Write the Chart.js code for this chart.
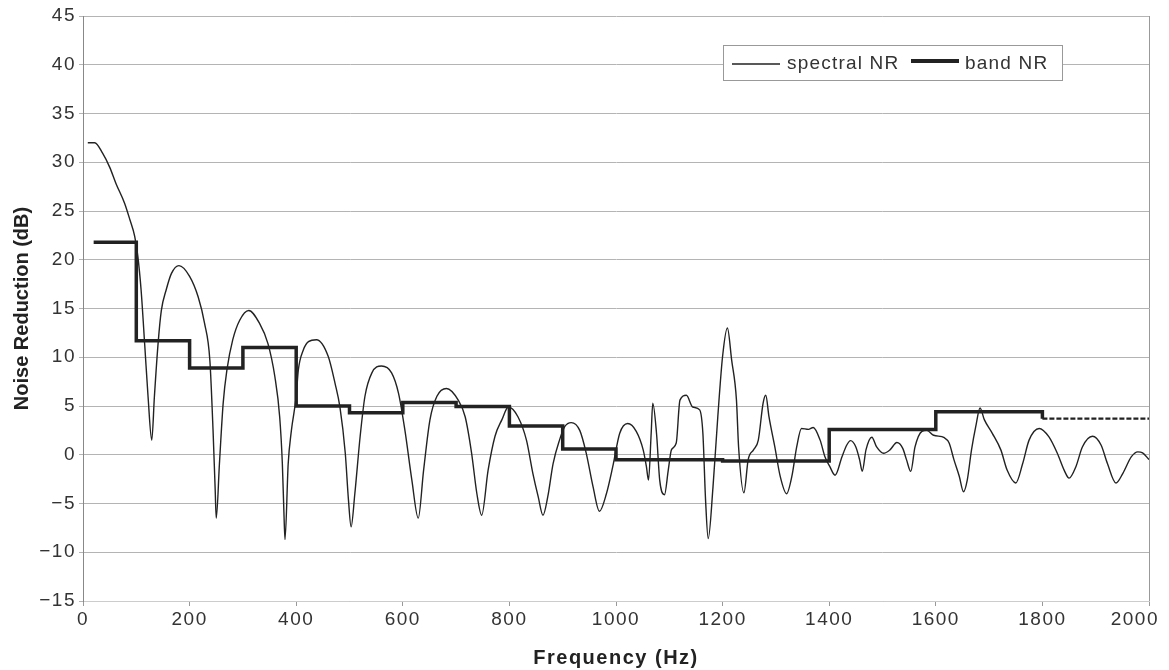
<!DOCTYPE html>
<html>
<head>
<meta charset="utf-8">
<script src="https://cdn.jsdelivr.net/npm/chart.js@4.4.1/dist/chart.umd.min.js"></script>
<style>
  html, body { margin: 0; background: #fff; }
  #wrap { width: 1169px; height: 670px; }
</style>
</head>
<body>
<div id="wrap"><canvas id="nrChart"></canvas></div>
<script>
// spectral NR (Hz, dB)
const specFreq = [9, 22, 37, 50, 62, 78, 88, 97, 103, 109, 116, 122, 129, 134, 141, 147, 156, 166, 180, 200,
  216, 228, 238, 244, 248, 250, 256, 263, 270, 281, 294, 311, 331, 347, 360, 369, 374, 377, 379, 385,
  391, 400, 404, 413, 423, 438, 460, 473, 482, 492, 498, 503, 510, 520, 529, 542, 560, 579, 592, 604,
  617, 629, 639, 651, 664, 682, 704, 717, 729, 739, 748, 760, 773, 786, 798, 816, 832, 844, 854, 863,
  872, 882, 894, 904, 916, 932, 944, 957, 969, 982, 994, 1007, 1022, 1038, 1051, 1057, 1061, 1066, 1069, 1076,
  1082, 1091, 1098, 1104, 1113, 1120, 1132, 1144, 1157, 1163, 1168, 1173, 1182, 1191, 1200, 1209, 1217, 1226, 1230, 1240,
  1248, 1258, 1267, 1276, 1281, 1287, 1298, 1308, 1320, 1330, 1339, 1348, 1361, 1370, 1383, 1392, 1401, 1411, 1424, 1433,
  1440, 1450, 1457, 1462, 1469, 1480, 1489, 1502, 1514, 1527, 1538, 1545, 1553, 1561, 1574, 1583, 1596, 1616, 1625, 1634,
  1644, 1652, 1659, 1667, 1675, 1683, 1691, 1706, 1722, 1734, 1750, 1763, 1775, 1794, 1812, 1828, 1841, 1850, 1863, 1875,
  1894, 1910, 1922, 1938, 1951, 1967, 1979, 1988, 2000];
const specNR = [32.0, 32.0, 30.9, 29.5, 27.8, 25.8, 24.1, 22.4, 20.3, 16.9, 11.1, 6.0, 1.5, 6.0, 11.5, 14.8, 16.9, 18.6, 19.4, 18.3,
  16.2, 13.5, 9.7, 2.5, -3.6, -6.5, -0.9, 5.3, 8.7, 11.8, 13.8, 14.8, 13.5, 11.4, 8.0, 3.9, -0.9, -6.0, -8.7, -0.9,
  2.5, 6.0, 8.7, 10.7, 11.6, 11.8, 10.1, 7.3, 4.9, 0.2, -4.6, -7.4, -4.0, 1.9, 6.0, 8.4, 9.1, 8.4, 6.3, 2.5,
  -2.6, -6.5, -1.6, 3.6, 6.0, 6.8, 5.6, 3.9, 0.2, -4.0, -6.2, -1.6, 1.9, 3.6, 4.9, 3.9, 1.5, -1.9, -4.3, -6.2,
  -4.3, -0.9, 1.5, 2.9, 3.3, 2.5, 0.2, -3.3, -5.8, -4.0, -1.2, 2.2, 3.2, 2.4, 0.5, -1.2, -2.6, 2.2, 5.3, 2.2,
  -2.6, -4.1, -1.6, 0.5, 1.2, 5.6, 6.1, 4.9, 4.6, 2.2, -4.6, -8.6, -3.3, 3.9, 10.1, 13.0, 9.7, 5.6, 0.8, -3.9,
  -0.5, 0.5, 1.5, 5.3, 6.1, 3.9, 0.8, -2.2, -4.0, -2.2, 0.8, 2.7, 2.6, 2.8, 1.5, -0.2, -1.2, -2.1, -0.2, 1.0,
  1.45, 0.8, -0.5, -1.7, 0.5, 1.8, 0.8, 0.15, 0.5, 1.25, 0.65, -0.5, -1.7, 0.8, 2.4, 2.5, 2.0, 1.75, 1.2, -0.5,
  -2.2, -3.8, -2.6, 0.5, 2.9, 4.8, 3.6, 2.2, 0.5, -1.6, -2.9, -0.9, 1.5, 2.7, 1.85, 0.15, -1.6, -2.4, -1.2, 0.8,
  1.9, 1.0, -0.9, -2.9, -1.9, -0.2, 0.3, 0.2, -0.5];

// band NR: one value per band, band edges in Hz
const bandEdges = [20, 100, 200, 300, 400, 500, 600, 700, 800, 900, 1000, 1200, 1400, 1600, 1800, 2000];
const bandNR = [21.8, 11.7, 8.9, 11.0, 5.0, 4.3, 5.35, 4.95, 2.95, 0.6, -0.5, -0.65, 2.6, 4.4, 3.7];

const xTicks = [0, 200, 400, 600, 800, 1000, 1200, 1400, 1600, 1800, 2000];
const yTicks = [-15, -10, -5, 0, 5, 10, 15, 20, 25, 30, 35, 40, 45];

const FONT = "'Liberation Sans', Arial, sans-serif";
const INK = "#222";
const LABEL = "#333";

const spectralPoints = specFreq.map((f, i) => ({ x: f, y: specNR[i] }));
const bandPoints = bandEdges.map((f, i) => ({ x: f, y: bandNR[Math.min(i, bandNR.length - 1)] }));

// the reference text is a little wide; letter spacing gets close to it
const wideText = {
  id: "wideText",
  beforeLayout(chart) { chart.ctx.letterSpacing = "1.5px"; },
  beforeDraw(chart) { chart.ctx.letterSpacing = "1.5px"; }
};

// legend box inside the plot, y title, last x label and the right frame edge
const frameAndLegend = {
  id: "frameAndLegend",
  afterDraw(chart) {
    const { ctx, chartArea, scales } = chart;
    ctx.save();
    ctx.strokeStyle = "#999";
    ctx.lineWidth = 1;
    ctx.beginPath();
    ctx.moveTo(Math.round(chartArea.right) + 0.5, chartArea.top);
    ctx.lineTo(Math.round(chartArea.right) + 0.5, chartArea.bottom);
    ctx.stroke();

    // last x tick label, kept inside the canvas as in the original
    ctx.fillStyle = LABEL;
    ctx.font = "19px " + FONT;
    ctx.letterSpacing = "1.5px";
    ctx.textAlign = "right";
    ctx.textBaseline = "top";
    const last = xTicks[xTicks.length - 1];
    ctx.fillText(String(last), scales.x.getPixelForValue(last) + 10, chartArea.bottom + 9);

    // y axis title
    ctx.letterSpacing = "0px";
    ctx.save();
    ctx.translate(22, (chartArea.top + chartArea.bottom) / 2);
    ctx.rotate(-Math.PI / 2);
    ctx.textAlign = "center";
    ctx.textBaseline = "middle";
    ctx.fillStyle = INK;
    ctx.font = "bold 20px " + FONT;
    ctx.fillText("Noise Reduction (dB)", 0, 0);
    ctx.restore();

    // legend
    const bx = 723.5, by = 45.5, bw = 339, bh = 35;
    ctx.fillStyle = "#fff";
    ctx.fillRect(bx, by, bw, bh);
    ctx.strokeStyle = "#999";
    ctx.strokeRect(bx, by, bw, bh);

    ctx.strokeStyle = INK;
    ctx.lineWidth = 1.3;
    ctx.beginPath();
    ctx.moveTo(732, 64);
    ctx.lineTo(780, 64);
    ctx.stroke();
    ctx.lineWidth = 4;
    ctx.beginPath();
    ctx.moveTo(911, 61);
    ctx.lineTo(959, 61);
    ctx.stroke();

    ctx.fillStyle = LABEL;
    ctx.font = "19px " + FONT;
    ctx.letterSpacing = "1.2px";
    ctx.textAlign = "left";
    ctx.textBaseline = "middle";
    ctx.fillText(chart.data.datasets[0].label, 787, 64);
    ctx.fillText(chart.data.datasets[1].label, 965, 64);
    ctx.restore();
  }
};

new Chart(document.getElementById("nrChart"), {
  type: "line",
  data: {
    datasets: [{
      label: "spectral NR",
      data: spectralPoints,
      borderColor: INK,
      borderWidth: 1.4,
      pointRadius: 0,
      cubicInterpolationMode: "monotone",
      order: 1
    }, {
      label: "band NR",
      data: bandPoints,
      borderColor: INK,
      borderWidth: 3.5,
      pointRadius: 0,
      stepped: true,
      order: 0,
      segment: {
        borderDash: c => c.p0.parsed.x >= 1800 ? [5, 2] : undefined,
        borderWidth: c => c.p0.parsed.x >= 1800 ? 2.2 : undefined
      }
    }]
  },
  options: {
    responsive: true,
    maintainAspectRatio: false,
    animation: false,
    layout: { padding: { top: 16, right: 20, left: 0, bottom: 0 } },
    plugins: {
      legend: { display: false },
      tooltip: { enabled: false }
    },
    scales: {
      x: {
        type: "linear",
        min: 0,
        max: 2000,
        afterBuildTicks: s => { s.ticks = xTicks.map(v => ({ value: v })); },
        ticks: {
          color: LABEL,
          font: { family: FONT, size: 19 },
          maxRotation: 0,
          padding: 2,
          callback: v => v === xTicks[xTicks.length - 1] ? "" : String(v)
        },
        grid: { drawOnChartArea: false, drawTicks: true, tickLength: 5, color: "#999" },
        border: { color: "#ccc" },
        title: {
          display: true,
          text: "Frequency (Hz)",
          color: INK,
          font: { family: FONT, size: 20, weight: "bold" },
          padding: { top: 4, bottom: 0 }
        },
        afterFit: s => { s.height = 69; s.paddingLeft = 0; s.paddingRight = 0; }
      },
      y: {
        min: -15,
        max: 45,
        afterBuildTicks: s => { s.ticks = yTicks.map(v => ({ value: v })); },
        ticks: {
          color: LABEL,
          font: { family: FONT, size: 19 },
          padding: 3,
          callback: v => v < 0 ? "\u2212" + Math.abs(v) : String(v)
        },
        grid: { color: "#b4b4b4", tickLength: 4 },
        border: { color: "#888" },
        afterFit: s => { s.width = 83; }
      }
    }
  },
  plugins: [wideText, frameAndLegend]
});
</script>
</body>
</html>
